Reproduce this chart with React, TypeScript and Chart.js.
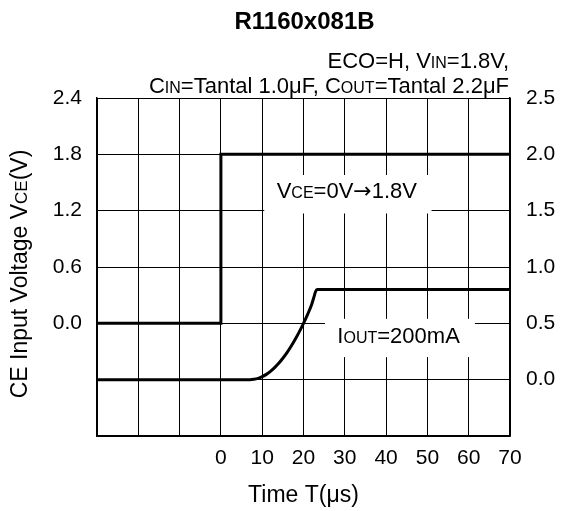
import React, { useEffect, useRef } from 'react';
import { Chart, registerables } from 'chart.js';

Chart.register(...registerables);

// ---- data ----
const TIME_MIN = -30;
const TIME_MAX = 70;
const TIME_STEP = 10;

const LEFT_MIN = -1.2;
const LEFT_MAX = 2.4;
const LEFT_STEP = 0.6;

const RIGHT_MIN = -0.5;
const RIGHT_MAX = 2.5;
const RIGHT_STEP = 0.5;

// CE input voltage (left axis)
const vceTime = [-30, 0, 0, 70];
const vceValues = [0, 0, 1.8, 1.8];

// Output voltage (right axis)
const voutTime = [-30, 7, 8, 9, 10, 11, 12, 13, 14, 15, 16, 17, 18, 19, 20, 21, 22, 22.5, 22.9, 23.3, 70];
const voutValues = [0, 0, 0.003, 0.012, 0.027, 0.047, 0.074, 0.107, 0.145, 0.19, 0.24, 0.296, 0.358, 0.426, 0.5, 0.58, 0.67, 0.73, 0.78, 0.8, 0.8];

const TITLE = 'R1160x081B';
const FAM = '"Liberation Sans", Arial, Helvetica, sans-serif';
const ARROW_FAM = '"DejaVu Sans", sans-serif';

type Seg = { t: string; small?: boolean; fam?: string };

const SUB1: Seg[] = [{ t: 'ECO=H, V' }, { t: 'IN', small: true }, { t: '=1.8V,' }];
const SUB2: Seg[] = [
  { t: 'C' }, { t: 'IN', small: true }, { t: '=Tantal 1.0\u03bcF, C' }, { t: 'OUT', small: true }, { t: '=Tantal 2.2\u03bcF' },
];
const Y_TITLE: Seg[] = [{ t: 'CE Input Voltage V' }, { t: 'CE', small: true }, { t: '(V)' }];
const X_TITLE: Seg[] = [{ t: 'Time T(\u03bcs)' }];
const NOTE_VCE: Seg[] = [{ t: 'V' }, { t: 'CE', small: true }, { t: '=0V' }, { t: '\u2192', fam: ARROW_FAM }, { t: '1.8V' }];
const NOTE_IOUT: Seg[] = [{ t: 'I' }, { t: 'OUT', small: true }, { t: '=200mA' }];

function drawRich(
  ctx: CanvasRenderingContext2D,
  segs: Seg[],
  x: number,
  y: number,
  size: number,
  align: 'left' | 'right' | 'center',
  bold = false
) {
  const fontFor = (s: Seg) => `${bold ? 'bold ' : ''}${s.small ? Math.round(size * 0.74) : size}px ${s.fam || FAM}`;
  const widths = segs.map((s) => {
    ctx.font = fontFor(s);
    return ctx.measureText(s.t).width;
  });
  const total = widths.reduce((a, b) => a + b, 0);
  let cx = align === 'left' ? x : align === 'right' ? x - total : x - total / 2;
  ctx.textAlign = 'left';
  ctx.textBaseline = 'alphabetic';
  ctx.fillStyle = '#000';
  segs.forEach((s, i) => {
    ctx.font = fontFor(s);
    ctx.fillText(s.t, cx, y);
    cx += widths[i];
  });
}

const textPlugin = {
  id: 'customText',
  beforeDatasetsDraw(chart: any) {
    const { ctx, scales } = chart;
    const x = scales.x;
    const yl = scales.yLeft;
    const yr = scales.yRight;
    ctx.save();
    ctx.fillStyle = '#fff';
    {
      const x1 = x.getPixelForValue(10.5);
      const x2 = x.getPixelForValue(51);
      const y1 = yl.getPixelForValue(1.58);
      const y2 = yl.getPixelForValue(1.17);
      ctx.fillRect(x1, y1, x2 - x1, y2 - y1);
    }
    {
      const x1 = x.getPixelForValue(25.2);
      const x2 = x.getPixelForValue(61.5);
      const y1 = yr.getPixelForValue(0.54);
      const y2 = yr.getPixelForValue(0.2);
      ctx.fillRect(x1, y1, x2 - x1, y2 - y1);
    }
    ctx.restore();
  },
  afterDraw(chart: any) {
    const { ctx, scales, chartArea } = chart;
    const x = scales.x;
    const yl = scales.yLeft;
    const yr = scales.yRight;
    ctx.save();
    const cxMid = (chartArea.left + chartArea.right) / 2;
    drawRich(ctx, [{ t: TITLE }], cxMid + 1, 29, 24, 'center', true);
    drawRich(ctx, SUB1, chartArea.right - 1, 68, 22, 'right');
    drawRich(ctx, SUB2, chartArea.right - 1, 93, 22, 'right');
    drawRich(ctx, NOTE_VCE, x.getPixelForValue(13.5), yl.getPixelForValue(1.38) + 4, 22, 'left');
    drawRich(ctx, NOTE_IOUT, x.getPixelForValue(28.2), yr.getPixelForValue(0.39) + 7, 22, 'left');
    drawRich(ctx, X_TITLE, cxMid, 502, 23, 'center');
    ctx.translate(19, (chartArea.top + chartArea.bottom) / 2 + 7);
    ctx.rotate(-Math.PI / 2);
    drawRich(ctx, Y_TITLE, 0, 8, 23, 'center');
    ctx.restore();
  },
};

export default function App() {
  const ref = useRef<HTMLCanvasElement | null>(null);
  useEffect(() => {
    if (!ref.current) return;
    const tickFont = { family: FAM, size: 21 };
    const chart = new Chart(ref.current, {
      type: 'scatter',
      data: {
        datasets: [
          {
            label: 'VCE',
            data: vceTime.map((t, i) => ({ x: t, y: vceValues[i] })),
            yAxisID: 'yLeft',
            showLine: true,
            borderColor: '#000',
            borderWidth: 3,
            pointRadius: 0,
            tension: 0,
          },
          {
            label: 'VOUT',
            data: voutTime.map((t, i) => ({ x: t, y: voutValues[i] })),
            yAxisID: 'yRight',
            showLine: true,
            borderColor: '#000',
            borderWidth: 3,
            pointRadius: 0,
            cubicInterpolationMode: 'monotone',
          },
        ],
      },
      options: {
        animation: false,
        responsive: false,
        maintainAspectRatio: false,
        layout: { padding: { top: 98, left: 0, right: 0, bottom: 0 } },
        plugins: {
          legend: { display: false },
          tooltip: { enabled: false },
          title: { display: false },
        },
        scales: {
          x: {
            type: 'linear',
            min: TIME_MIN,
            max: TIME_MAX,
            ticks: {
              stepSize: TIME_STEP,
              font: tickFont,
              color: '#000',
              padding: 10,
              maxRotation: 0,
              autoSkip: false,
              callback: (v: any) => (Number(v) >= 0 ? String(v) : ''),
            },
            grid: { color: '#000', lineWidth: 1, drawTicks: false },
            border: { color: '#000', width: 1.5 },
            afterFit: (s: any) => {
              s.height = 75;
            },
          },
          yLeft: {
            type: 'linear',
            position: 'left',
            min: LEFT_MIN,
            max: LEFT_MAX,
            ticks: {
              stepSize: LEFT_STEP,
              font: tickFont,
              color: '#000',
              padding: 15,
              autoSkip: false,
              callback: (v: any) => {
                const n = Math.round(Number(v) * 10) / 10;
                return n >= 0 ? n.toFixed(1) : '';
              },
            },
            grid: { color: '#000', lineWidth: 1, drawTicks: false },
            border: { color: '#000', width: 1.5 },
            afterFit: (s: any) => {
              s.width = 97;
            },
          },
          yRight: {
            type: 'linear',
            position: 'right',
            min: RIGHT_MIN,
            max: RIGHT_MAX,
            ticks: {
              stepSize: RIGHT_STEP,
              font: tickFont,
              color: '#000',
              padding: 16,
              autoSkip: false,
              callback: (v: any) => {
                const n = Math.round(Number(v) * 10) / 10;
                return n >= 0 ? n.toFixed(1) : '';
              },
            },
            grid: { display: false, drawTicks: false },
            border: { color: '#000', width: 1.5 },
            afterFit: (s: any) => {
              s.width = 52;
            },
          },
        },
      },
      plugins: [textPlugin],
    });
    return () => chart.destroy();
  }, []);
  return (
    <div style={{ position: 'absolute', left: 0, top: 0, width: 562, height: 511, background: '#fff' }}>
      <canvas ref={ref} width={562} height={511} style={{ display: 'block', width: 562, height: 511 }} />
    </div>
  );
}
